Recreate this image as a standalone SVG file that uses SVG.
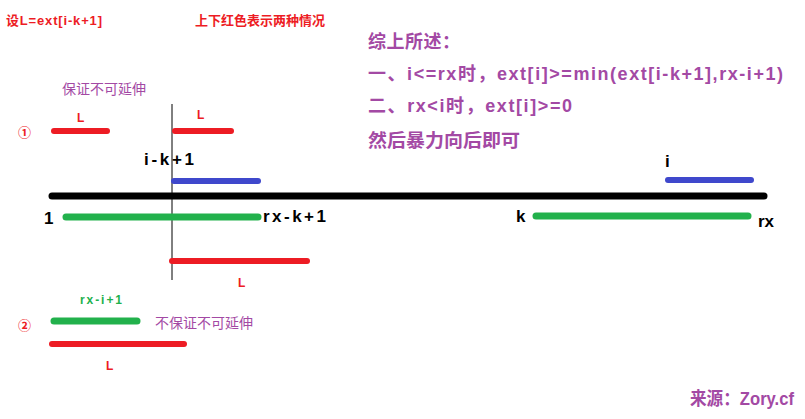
<svg xmlns="http://www.w3.org/2000/svg" width="805" height="419" viewBox="0 0 805 419">
<style>
.red{fill:#ed1c24;font-family:"Liberation Sans","Noto Sans CJK SC",sans-serif;font-weight:bold}
.pur{fill:#a349a4;font-family:"Liberation Sans","Noto Sans CJK SC",sans-serif;font-weight:bold;font-size:18px}
.purn{fill:#a349a4;font-family:"Liberation Sans","Noto Sans CJK SC",sans-serif;font-size:14px}
.blk{fill:#000;font-family:"Liberation Sans","Noto Sans CJK SC",sans-serif;font-weight:bold;font-size:17px}
.seg{stroke-linecap:round;fill:none}
.r{stroke:#ed1c24;stroke-width:6}
.g{stroke:#22b14c;stroke-width:7}
.b{stroke:#3f48cc;stroke-width:6}
</style>
<rect width="805" height="419" fill="#fff"/>
<text class="red" x="6" y="25" font-size="13" textLength="96" lengthAdjust="spacing">设L=ext[i-k+1]</text>
<text class="red" x="195" y="25" font-size="13">上下红色表示两种情况</text>
<text class="pur" x="368" y="48" textLength="92" lengthAdjust="spacing">综上所述：</text>
<text class="pur" x="368" y="80" textLength="415" lengthAdjust="spacing">一、i&lt;=rx时，ext[i]&gt;=min(ext[i-k+1],rx-i+1)</text>
<text class="pur" x="368" y="112" textLength="204" lengthAdjust="spacing">二、rx&lt;i时，ext[i]&gt;=0</text>
<text class="pur" x="368" y="147" textLength="152" lengthAdjust="spacingAndGlyphs">然后暴力向后即可</text>
<text class="purn" x="62" y="94">保证不可延伸</text>
<g id="vline"><line x1="172" y1="104" x2="172" y2="280" stroke="#000" stroke-width="1"/></g>
<g id="case1">
<text class="red" x="18" y="137" font-size="13" font-weight="normal">①</text>
<line class="seg r" x1="54" y1="131" x2="107" y2="131"/>
<text class="red" x="77" y="122" font-size="12">L</text>
<line class="seg r" x1="175" y1="131" x2="231" y2="131"/>
<text class="red" x="197" y="119" font-size="12">L</text>
<line class="seg r" x1="172" y1="261" x2="307" y2="261"/>
<text class="red" x="238" y="287" font-size="12">L</text>
</g>
<g id="axis">
<line class="seg" x1="52" y1="196" x2="764" y2="196" stroke="#000" stroke-width="7"/>
<text class="blk" x="144" y="165" textLength="50" lengthAdjust="spacing">i-k+1</text>
<line class="seg b" x1="174" y1="181" x2="258" y2="181"/>
<text class="blk" x="44" y="224">1</text>
<line class="seg g" x1="66" y1="217" x2="258" y2="217"/>
<text class="blk" x="263" y="222" textLength="63" lengthAdjust="spacing">rx-k+1</text>
<text class="blk" x="516" y="222">k</text>
<line class="seg g" x1="536" y1="216" x2="748" y2="216"/>
<text class="blk" x="758" y="227">rx</text>
<text class="blk" x="665" y="167">i</text>
<line class="seg b" x1="668" y1="180" x2="751" y2="180"/>
</g>
<g id="case2">
<text x="80" y="304" font-family="Liberation Sans,sans-serif" font-weight="bold" font-size="12" fill="#22b14c" textLength="42" lengthAdjust="spacing">rx-i+1</text>
<text class="red" x="18" y="330" font-size="13" font-weight="normal">②</text>
<line class="seg g" x1="54" y1="321" x2="137" y2="321"/>
<text class="purn" x="155" y="328">不保证不可延伸</text>
<line class="seg r" x1="52" y1="344" x2="184" y2="344"/>
<text class="red" x="106" y="370" font-size="12">L</text>
</g>
<text class="pur" x="690" y="405" font-size="16" textLength="104" lengthAdjust="spacingAndGlyphs">来源：Zory.cf</text>
</svg>
